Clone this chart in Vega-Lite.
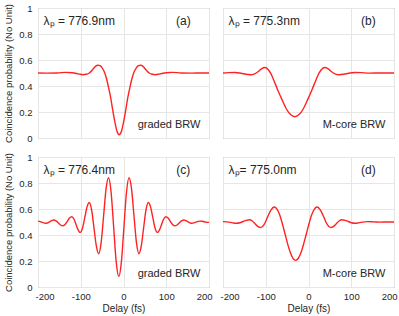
{
  "$schema": "https://vega.github.io/schema/vega-lite/v6.json",
  "padding": {"left": 3, "top": 2, "right": 0, "bottom": 1},
  "config": {
    "font": "Liberation Sans",
    "view": {"stroke": "#a0a0a0", "strokeWidth": 1},
    "axis": {"grid": true, "gridColor": "#e6e6e6", "domain": false, "ticks": false, "tickCount": 10, "labelOverlap": false, "labelColor": "#262626", "titleColor": "#262626", "labelFontSize": 9.5, "titleFontSize": 10, "titleFontWeight": "normal", "labelFont": "Liberation Sans", "titleFont": "Liberation Sans"},
    "axisX": {"labelFlush": true, "labelFlushOffset": 3, "labelPadding": 4, "titlePadding": 3},
    "axisY": {"labelPadding": 6, "titlePadding": 5, "titleFontSize": 9.5},
    "line": {"color": "#ff2222", "strokeWidth": 1.4, "interpolate": "monotone"},
    "text": {"color": "#262626"}
  },
  "data": {"values": [
    {"wg":"graded BRW","row":1,"delay":-200,"prob":0.5},{"wg":"graded BRW","row":1,"delay":-180,"prob":0.499},{"wg":"graded BRW","row":1,"delay":-155,"prob":0.5},{"wg":"graded BRW","row":1,"delay":-135,"prob":0.505},{"wg":"graded BRW","row":1,"delay":-120,"prob":0.502},{"wg":"graded BRW","row":1,"delay":-105,"prob":0.493},{"wg":"graded BRW","row":1,"delay":-95,"prob":0.487},{"wg":"graded BRW","row":1,"delay":-87,"prob":0.49},{"wg":"graded BRW","row":1,"delay":-80,"prob":0.5},{"wg":"graded BRW","row":1,"delay":-75,"prob":0.515},{"wg":"graded BRW","row":1,"delay":-70,"prob":0.535},{"wg":"graded BRW","row":1,"delay":-65,"prob":0.553},{"wg":"graded BRW","row":1,"delay":-60,"prob":0.56},{"wg":"graded BRW","row":1,"delay":-55,"prob":0.556},{"wg":"graded BRW","row":1,"delay":-50,"prob":0.54},{"wg":"graded BRW","row":1,"delay":-45,"prob":0.51},{"wg":"graded BRW","row":1,"delay":-40,"prob":0.46},{"wg":"graded BRW","row":1,"delay":-35,"prob":0.39},{"wg":"graded BRW","row":1,"delay":-30,"prob":0.31},{"wg":"graded BRW","row":1,"delay":-25,"prob":0.21},{"wg":"graded BRW","row":1,"delay":-20,"prob":0.12},{"wg":"graded BRW","row":1,"delay":-15,"prob":0.05},{"wg":"graded BRW","row":1,"delay":-10,"prob":0.025},{"wg":"graded BRW","row":1,"delay":-5,"prob":0.05},{"wg":"graded BRW","row":1,"delay":0,"prob":0.12},{"wg":"graded BRW","row":1,"delay":5,"prob":0.21},{"wg":"graded BRW","row":1,"delay":10,"prob":0.31},{"wg":"graded BRW","row":1,"delay":15,"prob":0.39},{"wg":"graded BRW","row":1,"delay":20,"prob":0.46},{"wg":"graded BRW","row":1,"delay":25,"prob":0.51},{"wg":"graded BRW","row":1,"delay":30,"prob":0.54},{"wg":"graded BRW","row":1,"delay":35,"prob":0.556},{"wg":"graded BRW","row":1,"delay":40,"prob":0.56},{"wg":"graded BRW","row":1,"delay":45,"prob":0.553},{"wg":"graded BRW","row":1,"delay":50,"prob":0.535},{"wg":"graded BRW","row":1,"delay":55,"prob":0.515},{"wg":"graded BRW","row":1,"delay":60,"prob":0.5},{"wg":"graded BRW","row":1,"delay":67,"prob":0.49},{"wg":"graded BRW","row":1,"delay":75,"prob":0.487},{"wg":"graded BRW","row":1,"delay":85,"prob":0.493},{"wg":"graded BRW","row":1,"delay":100,"prob":0.502},{"wg":"graded BRW","row":1,"delay":115,"prob":0.505},{"wg":"graded BRW","row":1,"delay":135,"prob":0.5},{"wg":"graded BRW","row":1,"delay":160,"prob":0.499},{"wg":"graded BRW","row":1,"delay":180,"prob":0.5},{"wg":"graded BRW","row":1,"delay":200,"prob":0.5},

    {"wg":"M-core BRW","row":1,"delay":-200,"prob":0.5},{"wg":"M-core BRW","row":1,"delay":-187,"prob":0.503},{"wg":"M-core BRW","row":1,"delay":-172,"prob":0.504},{"wg":"M-core BRW","row":1,"delay":-158,"prob":0.498},{"wg":"M-core BRW","row":1,"delay":-146,"prob":0.49},{"wg":"M-core BRW","row":1,"delay":-136,"prob":0.487},{"wg":"M-core BRW","row":1,"delay":-126,"prob":0.494},{"wg":"M-core BRW","row":1,"delay":-118,"prob":0.51},{"wg":"M-core BRW","row":1,"delay":-110,"prob":0.532},{"wg":"M-core BRW","row":1,"delay":-102,"prob":0.542},{"wg":"M-core BRW","row":1,"delay":-94,"prob":0.525},{"wg":"M-core BRW","row":1,"delay":-88,"prob":0.495},{"wg":"M-core BRW","row":1,"delay":-82,"prob":0.45},{"wg":"M-core BRW","row":1,"delay":-72,"prob":0.37},{"wg":"M-core BRW","row":1,"delay":-62,"prob":0.295},{"wg":"M-core BRW","row":1,"delay":-52,"prob":0.225},{"wg":"M-core BRW","row":1,"delay":-42,"prob":0.18},{"wg":"M-core BRW","row":1,"delay":-32,"prob":0.163},{"wg":"M-core BRW","row":1,"delay":-22,"prob":0.18},{"wg":"M-core BRW","row":1,"delay":-12,"prob":0.225},{"wg":"M-core BRW","row":1,"delay":-2,"prob":0.295},{"wg":"M-core BRW","row":1,"delay":8,"prob":0.37},{"wg":"M-core BRW","row":1,"delay":18,"prob":0.45},{"wg":"M-core BRW","row":1,"delay":24,"prob":0.495},{"wg":"M-core BRW","row":1,"delay":30,"prob":0.525},{"wg":"M-core BRW","row":1,"delay":38,"prob":0.542},{"wg":"M-core BRW","row":1,"delay":46,"prob":0.532},{"wg":"M-core BRW","row":1,"delay":54,"prob":0.51},{"wg":"M-core BRW","row":1,"delay":62,"prob":0.494},{"wg":"M-core BRW","row":1,"delay":72,"prob":0.487},{"wg":"M-core BRW","row":1,"delay":82,"prob":0.49},{"wg":"M-core BRW","row":1,"delay":94,"prob":0.498},{"wg":"M-core BRW","row":1,"delay":108,"prob":0.504},{"wg":"M-core BRW","row":1,"delay":123,"prob":0.503},{"wg":"M-core BRW","row":1,"delay":143,"prob":0.499},{"wg":"M-core BRW","row":1,"delay":168,"prob":0.5},{"wg":"M-core BRW","row":1,"delay":200,"prob":0.5},

    {"wg":"graded BRW","row":2,"delay":-200,"prob":0.507},{"wg":"graded BRW","row":2,"delay":-196.3,"prob":0.505},{"wg":"graded BRW","row":2,"delay":-191.5,"prob":0.499},{"wg":"graded BRW","row":2,"delay":-186.8,"prob":0.493},{"wg":"graded BRW","row":2,"delay":-182,"prob":0.49},{"wg":"graded BRW","row":2,"delay":-177.3,"prob":0.494},{"wg":"graded BRW","row":2,"delay":-172.5,"prob":0.503},{"wg":"graded BRW","row":2,"delay":-167.8,"prob":0.511},{"wg":"graded BRW","row":2,"delay":-163,"prob":0.515},{"wg":"graded BRW","row":2,"delay":-157.8,"prob":0.508},{"wg":"graded BRW","row":2,"delay":-152.5,"prob":0.493},{"wg":"graded BRW","row":2,"delay":-147.3,"prob":0.477},{"wg":"graded BRW","row":2,"delay":-142,"prob":0.47},{"wg":"graded BRW","row":2,"delay":-136.8,"prob":0.48},{"wg":"graded BRW","row":2,"delay":-131.5,"prob":0.505},{"wg":"graded BRW","row":2,"delay":-126.3,"prob":0.53},{"wg":"graded BRW","row":2,"delay":-121,"prob":0.54},{"wg":"graded BRW","row":2,"delay":-116,"prob":0.523},{"wg":"graded BRW","row":2,"delay":-111,"prob":0.48},{"wg":"graded BRW","row":2,"delay":-106,"prob":0.438},{"wg":"graded BRW","row":2,"delay":-101,"prob":0.42},{"wg":"graded BRW","row":2,"delay":-95.8,"prob":0.454},{"wg":"graded BRW","row":2,"delay":-90.5,"prob":0.535},{"wg":"graded BRW","row":2,"delay":-85.3,"prob":0.616},{"wg":"graded BRW","row":2,"delay":-80,"prob":0.65},{"wg":"graded BRW","row":2,"delay":-74.5,"prob":0.592},{"wg":"graded BRW","row":2,"delay":-69,"prob":0.453},{"wg":"graded BRW","row":2,"delay":-63.5,"prob":0.314},{"wg":"graded BRW","row":2,"delay":-58,"prob":0.256},{"wg":"graded BRW","row":2,"delay":-52.3,"prob":0.341},{"wg":"graded BRW","row":2,"delay":-46.5,"prob":0.548},{"wg":"graded BRW","row":2,"delay":-40.8,"prob":0.755},{"wg":"graded BRW","row":2,"delay":-35,"prob":0.84},{"wg":"graded BRW","row":2,"delay":-29,"prob":0.729},{"wg":"graded BRW","row":2,"delay":-23,"prob":0.46},{"wg":"graded BRW","row":2,"delay":-17,"prob":0.191},{"wg":"graded BRW","row":2,"delay":-11,"prob":0.08},{"wg":"graded BRW","row":2,"delay":-5,"prob":0.191},{"wg":"graded BRW","row":2,"delay":1,"prob":0.46},{"wg":"graded BRW","row":2,"delay":7,"prob":0.729},{"wg":"graded BRW","row":2,"delay":13,"prob":0.84},{"wg":"graded BRW","row":2,"delay":18.8,"prob":0.755},{"wg":"graded BRW","row":2,"delay":24.5,"prob":0.548},{"wg":"graded BRW","row":2,"delay":30.3,"prob":0.341},{"wg":"graded BRW","row":2,"delay":36,"prob":0.256},{"wg":"graded BRW","row":2,"delay":41.5,"prob":0.314},{"wg":"graded BRW","row":2,"delay":47,"prob":0.453},{"wg":"graded BRW","row":2,"delay":52.5,"prob":0.592},{"wg":"graded BRW","row":2,"delay":58,"prob":0.65},{"wg":"graded BRW","row":2,"delay":63.3,"prob":0.616},{"wg":"graded BRW","row":2,"delay":68.5,"prob":0.535},{"wg":"graded BRW","row":2,"delay":73.8,"prob":0.454},{"wg":"graded BRW","row":2,"delay":79,"prob":0.42},{"wg":"graded BRW","row":2,"delay":84,"prob":0.438},{"wg":"graded BRW","row":2,"delay":89,"prob":0.48},{"wg":"graded BRW","row":2,"delay":94,"prob":0.523},{"wg":"graded BRW","row":2,"delay":99,"prob":0.54},{"wg":"graded BRW","row":2,"delay":104.3,"prob":0.53},{"wg":"graded BRW","row":2,"delay":109.5,"prob":0.505},{"wg":"graded BRW","row":2,"delay":114.8,"prob":0.48},{"wg":"graded BRW","row":2,"delay":120,"prob":0.47},{"wg":"graded BRW","row":2,"delay":125.3,"prob":0.477},{"wg":"graded BRW","row":2,"delay":130.5,"prob":0.493},{"wg":"graded BRW","row":2,"delay":135.8,"prob":0.508},{"wg":"graded BRW","row":2,"delay":141,"prob":0.515},{"wg":"graded BRW","row":2,"delay":145.8,"prob":0.511},{"wg":"graded BRW","row":2,"delay":150.5,"prob":0.503},{"wg":"graded BRW","row":2,"delay":155.3,"prob":0.494},{"wg":"graded BRW","row":2,"delay":160,"prob":0.49},{"wg":"graded BRW","row":2,"delay":164.8,"prob":0.493},{"wg":"graded BRW","row":2,"delay":169.5,"prob":0.499},{"wg":"graded BRW","row":2,"delay":174.3,"prob":0.505},{"wg":"graded BRW","row":2,"delay":179,"prob":0.507},{"wg":"graded BRW","row":2,"delay":184,"prob":0.506},{"wg":"graded BRW","row":2,"delay":188.5,"prob":0.502},{"wg":"graded BRW","row":2,"delay":193,"prob":0.499},{"wg":"graded BRW","row":2,"delay":200,"prob":0.497},

    {"wg":"M-core BRW","row":2,"delay":-200,"prob":0.503},{"wg":"M-core BRW","row":2,"delay":-190.5,"prob":0.501},{"wg":"M-core BRW","row":2,"delay":-183,"prob":0.497},{"wg":"M-core BRW","row":2,"delay":-175.5,"prob":0.492},{"wg":"M-core BRW","row":2,"delay":-168,"prob":0.49},{"wg":"M-core BRW","row":2,"delay":-160.5,"prob":0.494},{"wg":"M-core BRW","row":2,"delay":-153,"prob":0.504},{"wg":"M-core BRW","row":2,"delay":-145.5,"prob":0.513},{"wg":"M-core BRW","row":2,"delay":-138,"prob":0.517},{"wg":"M-core BRW","row":2,"delay":-131.5,"prob":0.508},{"wg":"M-core BRW","row":2,"delay":-125,"prob":0.487},{"wg":"M-core BRW","row":2,"delay":-118.5,"prob":0.466},{"wg":"M-core BRW","row":2,"delay":-112,"prob":0.457},{"wg":"M-core BRW","row":2,"delay":-104,"prob":0.48},{"wg":"M-core BRW","row":2,"delay":-96,"prob":0.536},{"wg":"M-core BRW","row":2,"delay":-88,"prob":0.592},{"wg":"M-core BRW","row":2,"delay":-80,"prob":0.615},{"wg":"M-core BRW","row":2,"delay":-73.8,"prob":0.599},{"wg":"M-core BRW","row":2,"delay":-67.5,"prob":0.555},{"wg":"M-core BRW","row":2,"delay":-61.3,"prob":0.488},{"wg":"M-core BRW","row":2,"delay":-55,"prob":0.41},{"wg":"M-core BRW","row":2,"delay":-48.8,"prob":0.332},{"wg":"M-core BRW","row":2,"delay":-42.5,"prob":0.265},{"wg":"M-core BRW","row":2,"delay":-36.3,"prob":0.221},{"wg":"M-core BRW","row":2,"delay":-30,"prob":0.205},{"wg":"M-core BRW","row":2,"delay":-23.8,"prob":0.221},{"wg":"M-core BRW","row":2,"delay":-17.5,"prob":0.265},{"wg":"M-core BRW","row":2,"delay":-11.3,"prob":0.332},{"wg":"M-core BRW","row":2,"delay":-5,"prob":0.41},{"wg":"M-core BRW","row":2,"delay":1.3,"prob":0.488},{"wg":"M-core BRW","row":2,"delay":7.5,"prob":0.555},{"wg":"M-core BRW","row":2,"delay":13.8,"prob":0.599},{"wg":"M-core BRW","row":2,"delay":20,"prob":0.615},{"wg":"M-core BRW","row":2,"delay":28,"prob":0.592},{"wg":"M-core BRW","row":2,"delay":36,"prob":0.536},{"wg":"M-core BRW","row":2,"delay":44,"prob":0.48},{"wg":"M-core BRW","row":2,"delay":52,"prob":0.457},{"wg":"M-core BRW","row":2,"delay":58.5,"prob":0.466},{"wg":"M-core BRW","row":2,"delay":65,"prob":0.487},{"wg":"M-core BRW","row":2,"delay":71.5,"prob":0.508},{"wg":"M-core BRW","row":2,"delay":78,"prob":0.517},{"wg":"M-core BRW","row":2,"delay":85.5,"prob":0.513},{"wg":"M-core BRW","row":2,"delay":93,"prob":0.504},{"wg":"M-core BRW","row":2,"delay":100.5,"prob":0.494},{"wg":"M-core BRW","row":2,"delay":108,"prob":0.49},{"wg":"M-core BRW","row":2,"delay":115.5,"prob":0.492},{"wg":"M-core BRW","row":2,"delay":123,"prob":0.497},{"wg":"M-core BRW","row":2,"delay":130.5,"prob":0.501},{"wg":"M-core BRW","row":2,"delay":138,"prob":0.503},{"wg":"M-core BRW","row":2,"delay":153,"prob":0.501},{"wg":"M-core BRW","row":2,"delay":168,"prob":0.499},{"wg":"M-core BRW","row":2,"delay":185,"prob":0.5},{"wg":"M-core BRW","row":2,"delay":200,"prob":0.5},

    {"wg":"graded BRW","row":1,"lam":"λₚ = 776.9nm","tag":"(a)"},
    {"wg":"M-core BRW","row":1,"lam":"λₚ = 775.3nm","tag":"(b)"},
    {"wg":"graded BRW","row":2,"lam":"λₚ = 776.4nm","tag":"(c)"},
    {"wg":"M-core BRW","row":2,"lam":"λₚ= 775.0nm","tag":"(d)"}
  ]},
  "columns": 2,
  "spacing": {"row": 19, "column": 14},
  "bounds": "flush",
  "concat": [
    {
      "width": 171, "height": 130,
      "transform": [{"filter": "datum.wg == 'graded BRW' && datum.row == 1"}],
      "layer": [
        {"transform": [{"filter": "isValid(datum.prob)"}], "mark": {"type": "line"},
         "encoding": {
          "x": {"field": "delay", "type": "quantitative", "scale": {"domain": [-200, 200], "nice": false}, "axis": {"values": [-200, -100, 0, 100, 200], "labels": false, "title": null}},
          "y": {"field": "prob", "type": "quantitative", "scale": {"domain": [0, 1], "nice": false}, "axis": {"values": [0, 0.2, 0.4, 0.6, 0.8, 1], "format": "~g", "title": "Coincidence probability (No Unit)"}}}},
        {"transform": [{"filter": "isValid(datum.lam)"}], "mark": {"type": "text", "align": "left", "baseline": "middle", "fontSize": 12}, "encoding": {"x": {"datum": -187}, "y": {"datum": 0.9}, "text": {"field": "lam"}}},
        {"transform": [{"filter": "isValid(datum.lam)"}], "mark": {"type": "text", "align": "center", "baseline": "middle", "fontSize": 12}, "encoding": {"x": {"datum": 140}, "y": {"datum": 0.9}, "text": {"field": "tag"}}},
        {"transform": [{"filter": "isValid(datum.lam)"}], "mark": {"type": "text", "align": "right", "baseline": "middle", "fontSize": 11}, "encoding": {"x": {"datum": 180}, "y": {"datum": 0.1}, "text": {"field": "wg"}}}
      ]
    },
    {
      "width": 171, "height": 130,
      "transform": [{"filter": "datum.wg == 'M-core BRW' && datum.row == 1"}],
      "layer": [
        {"transform": [{"filter": "isValid(datum.prob)"}], "mark": {"type": "line"},
         "encoding": {
          "x": {"field": "delay", "type": "quantitative", "scale": {"domain": [-200, 200], "nice": false}, "axis": {"values": [-200, -100, 0, 100, 200], "labels": false, "title": null}},
          "y": {"field": "prob", "type": "quantitative", "scale": {"domain": [0, 1], "nice": false}, "axis": {"values": [0, 0.2, 0.4, 0.6, 0.8, 1], "labels": false, "title": null}}}},
        {"transform": [{"filter": "isValid(datum.lam)"}], "mark": {"type": "text", "align": "left", "baseline": "middle", "fontSize": 12}, "encoding": {"x": {"datum": -187}, "y": {"datum": 0.9}, "text": {"field": "lam"}}},
        {"transform": [{"filter": "isValid(datum.lam)"}], "mark": {"type": "text", "align": "center", "baseline": "middle", "fontSize": 12}, "encoding": {"x": {"datum": 140}, "y": {"datum": 0.9}, "text": {"field": "tag"}}},
        {"transform": [{"filter": "isValid(datum.lam)"}], "mark": {"type": "text", "align": "right", "baseline": "middle", "fontSize": 11}, "encoding": {"x": {"datum": 180}, "y": {"datum": 0.1}, "text": {"field": "wg"}}}
      ]
    },
    {
      "width": 171, "height": 130,
      "transform": [{"filter": "datum.wg == 'graded BRW' && datum.row == 2"}],
      "layer": [
        {"transform": [{"filter": "isValid(datum.prob)"}], "mark": {"type": "line"},
         "encoding": {
          "x": {"field": "delay", "type": "quantitative", "scale": {"domain": [-200, 200], "nice": false}, "axis": {"values": [-200, -100, 0, 100, 200], "labelExpr": "'' + datum.value", "title": "Delay (fs)"}},
          "y": {"field": "prob", "type": "quantitative", "scale": {"domain": [0, 1], "nice": false}, "axis": {"values": [0, 0.2, 0.4, 0.6, 0.8, 1], "format": "~g", "title": "Coincidence probability (No Unit)"}}}},
        {"transform": [{"filter": "isValid(datum.lam)"}], "mark": {"type": "text", "align": "left", "baseline": "middle", "fontSize": 12}, "encoding": {"x": {"datum": -187}, "y": {"datum": 0.9}, "text": {"field": "lam"}}},
        {"transform": [{"filter": "isValid(datum.lam)"}], "mark": {"type": "text", "align": "center", "baseline": "middle", "fontSize": 12}, "encoding": {"x": {"datum": 140}, "y": {"datum": 0.9}, "text": {"field": "tag"}}},
        {"transform": [{"filter": "isValid(datum.lam)"}], "mark": {"type": "text", "align": "right", "baseline": "middle", "fontSize": 11}, "encoding": {"x": {"datum": 180}, "y": {"datum": 0.1}, "text": {"field": "wg"}}}
      ]
    },
    {
      "width": 171, "height": 130,
      "transform": [{"filter": "datum.wg == 'M-core BRW' && datum.row == 2"}],
      "layer": [
        {"transform": [{"filter": "isValid(datum.prob)"}], "mark": {"type": "line"},
         "encoding": {
          "x": {"field": "delay", "type": "quantitative", "scale": {"domain": [-200, 200], "nice": false}, "axis": {"values": [-200, -100, 0, 100, 200], "labelExpr": "'' + datum.value", "title": "Delay (fs)"}},
          "y": {"field": "prob", "type": "quantitative", "scale": {"domain": [0, 1], "nice": false}, "axis": {"values": [0, 0.2, 0.4, 0.6, 0.8, 1], "labels": false, "title": null}}}},
        {"transform": [{"filter": "isValid(datum.lam)"}], "mark": {"type": "text", "align": "left", "baseline": "middle", "fontSize": 12}, "encoding": {"x": {"datum": -187}, "y": {"datum": 0.9}, "text": {"field": "lam"}}},
        {"transform": [{"filter": "isValid(datum.lam)"}], "mark": {"type": "text", "align": "center", "baseline": "middle", "fontSize": 12}, "encoding": {"x": {"datum": 140}, "y": {"datum": 0.9}, "text": {"field": "tag"}}},
        {"transform": [{"filter": "isValid(datum.lam)"}], "mark": {"type": "text", "align": "right", "baseline": "middle", "fontSize": 11}, "encoding": {"x": {"datum": 180}, "y": {"datum": 0.1}, "text": {"field": "wg"}}}
      ]
    }
  ]
}
